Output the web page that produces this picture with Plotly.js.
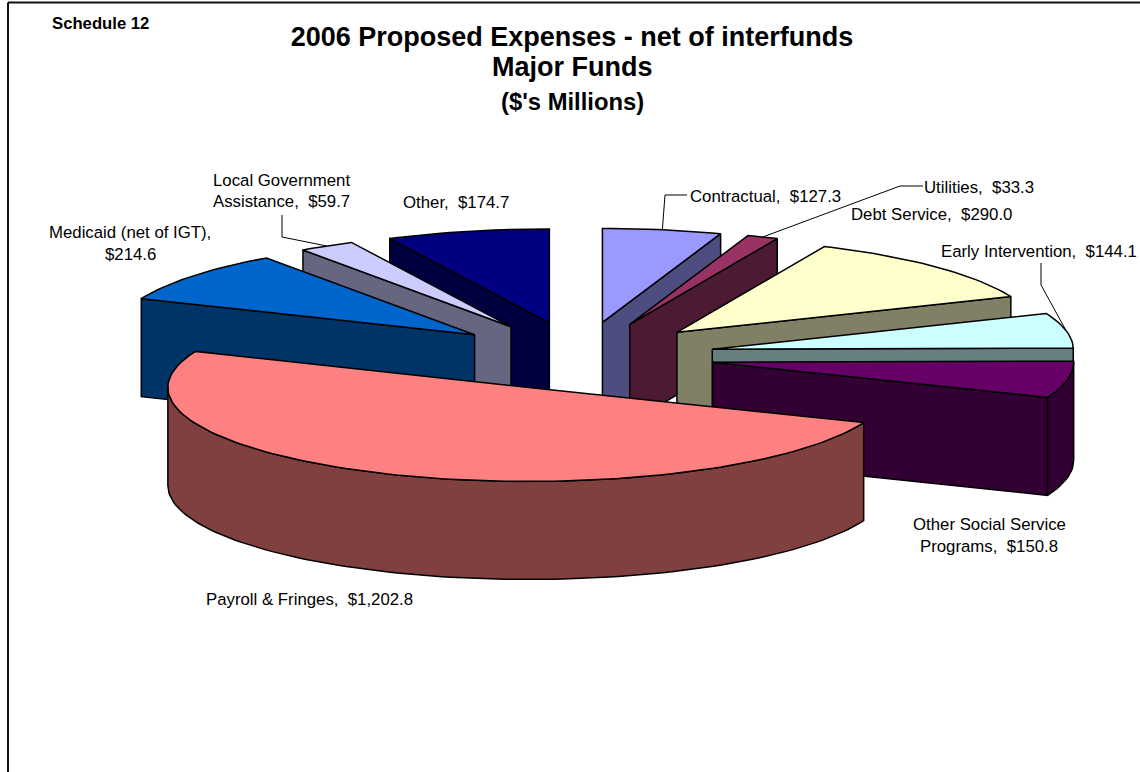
<!DOCTYPE html>
<html>
<head>
<meta charset="utf-8">
<script src="https://cdn.plot.ly/plotly-3.0.1.min.js"></script>
<style>html,body{margin:0;padding:0;background:#fff}#chart{width:1140px;height:772px}</style>
</head>
<body>
<div id="chart"></div>
<script>
// Expense categories and amounts, clockwise from twelve o'clock ($ millions)
const categories = ["Contractual","Utilities","Debt Service","Early Intervention","Other Social Service Programs","Payroll & Fringes","Medicaid (net of IGT)","Local Government Assistance","Other"];
const amounts = [127.3,33.3,290.0,144.1,150.8,1202.8,214.6,59.7,174.7];

// Top-face and side-wall colours per category
const topColors = ["#9999FF","#993366","#FFFFCC","#CCFFFF","#660066","#FF8080","#0066CC","#CCCCFF","#000080"];
const wallColors = ["#4D4D80","#4D1A33","#808066","#668080","#330033","#804040","#003366","#666680","#000040"];

// Painter's order: rear right wedges first, the large front wedge last
const drawOrder = [0,1,2,3,4,8,7,6,5];

// Projection of the tilted, exploded disc on the canvas axes
const centre = {x:580, y:356};
const radius = {x:361, y:94};
const explode = {x:135, y:34};
const depth = 98;

// Label text, one entry per line: [text, x, y, size, bold]
const labelLines = [
  ["Schedule 12",100,23,16.7,true],
  ["Major Funds",572,67,27,true],
  ["($'s Millions)",572,101,23.8,true],
  ["Local Government",281,180,16.8,false],
  ["Assistance,\u00A0\u00A0$59.7",281,201,16.8,false],
  ["Medicaid (net of IGT),",130,232,16.8,false],
  ["$214.6",130,254,16.8,false],
  ["Other,\u00A0\u00A0$174.7",456,202,16.8,false],
  ["Contractual,\u00A0\u00A0$127.3",765,196,16.8,false],
  ["Utilities,\u00A0\u00A0$33.3",979,187,16.8,false],
  ["Debt Service,\u00A0\u00A0$290.0",931,214,16.8,false],
  ["Early Intervention,\u00A0\u00A0$144.1",1039,251,16.8,false],
  ["Other Social Service",989,524,16.8,false],
  ["Programs,\u00A0\u00A0$150.8",989,546,16.8,false],
  ["Payroll & Fringes,\u00A0\u00A0$1,202.8",309,599,16.8,false]
];

// Leader lines: category index and the elbow points after the wedge's arc midpoint
const leaders = [
  [0,[[665,195],[687,195]]],
  [1,[[900,186],[923,186]]],
  [3,[[1041,285],[1041,263]]],
  [7,[[282,237],[282,215]]]
];

const total = amounts.reduce((s,v)=>s+v,0);
const rad = d => d*Math.PI/180;

// Start/end angles and exploded apex of each wedge
let running = 0;
const wedges = amounts.map(v=>{
  const a0 = running/total*360;
  running += v;
  const a1 = running/total*360;
  const mid = rad((a0+a1)/2);
  return {a0,a1,
    ax: centre.x + explode.x*Math.sin(mid),
    ay: centre.y - explode.y*Math.cos(mid)};
});

function rim(w,deg){
  return [w.ax + radius.x*Math.sin(rad(deg)), w.ay - radius.y*Math.cos(rad(deg))];
}
function arc(w,from,to){
  const n = Math.max(2,Math.ceil(Math.abs(to-from)/1.5));
  const pts = [];
  for(let i=0;i<=n;i++) pts.push(rim(w,from+(to-from)*i/n));
  return pts;
}
function face(pts,fill,name){
  return {
    type:"scatter",mode:"lines",
    x:pts.map(p=>p[0]).concat(pts[0][0]),
    y:pts.map(p=>p[1]).concat(pts[0][1]),
    fill:"toself",fillcolor:fill,
    line:{color:"#000",width:1.5},
    hoverinfo:"text",text:name,showlegend:false
  };
}

const traces = [];
drawOrder.forEach(i=>{
  const w = wedges[i];
  const apex = [w.ax,w.ay];
  const drop = p=>[p[0],p[1]+depth];
  const label = categories[i]+": $"+amounts[i].toLocaleString("en-US",{minimumFractionDigits:1});
  // Radial walls that face the viewer
  if(Math.sin(rad(w.a0))<-1e-6){
    const r=rim(w,w.a0);
    traces.push(face([apex,r,drop(r),drop(apex)],wallColors[i],label));
  }
  if(Math.sin(rad(w.a1))>1e-6){
    const r=rim(w,w.a1);
    traces.push(face([apex,r,drop(r),drop(apex)],wallColors[i],label));
  }
  // Curved wall along the front half of the rim
  const from=Math.max(w.a0,90), to=Math.min(w.a1,270);
  if(to>from){
    const edge=arc(w,from,to);
    traces.push(face(edge.concat(edge.map(drop).reverse()),wallColors[i],label));
  }
  // Top face
  traces.push(face([apex].concat(arc(w,w.a0,w.a1)),topColors[i],label));
});

// Leader lines run from the middle of the wedge's rim
leaders.forEach(([i,elbows])=>{
  const w=wedges[i];
  const pts=[rim(w,(w.a0+w.a1)/2)].concat(elbows);
  traces.push({type:"scatter",mode:"lines",x:pts.map(p=>p[0]),y:pts.map(p=>p[1]),
    line:{color:"#000",width:1},hoverinfo:"skip",showlegend:false});
});

const annotations = labelLines.map(([text,x,y,size,bold])=>({
  text: bold?"<b>"+text+"</b>":text,
  x,y,xref:"x",yref:"y",xanchor:"center",yanchor:"middle",showarrow:false,
  font:{family:"Liberation Sans, Arial, sans-serif",size,color:"#000"}
}));

const layout = {
  width:1140,height:772,
  margin:{l:0,r:0,t:0,b:0},
  paper_bgcolor:"#fff",plot_bgcolor:"#fff",
  showlegend:false,
  title:{
    text:"<b>2006 Proposed Expenses - net of interfunds</b>",
    font:{family:"Liberation Sans, Arial, sans-serif",size:27,color:"#000"},
    x:572/1140,xanchor:"center",xref:"paper",
    y:1-37/772,yanchor:"middle",yref:"container"
  },
  xaxis:{range:[0,1140],visible:false,fixedrange:true},
  yaxis:{range:[772,0],visible:false,fixedrange:true},
  annotations,
  shapes:[
    {type:"line",xref:"x",yref:"y",x0:8,x1:8,y0:2.5,y1:772,line:{color:"#111",width:2}},
    {type:"line",xref:"x",yref:"y",x0:8,x1:1140,y0:2.5,y1:2.5,line:{color:"#111",width:2}}
  ]
};

Plotly.newPlot("chart",traces,layout,{displayModeBar:false});
</script>
</body>
</html>
